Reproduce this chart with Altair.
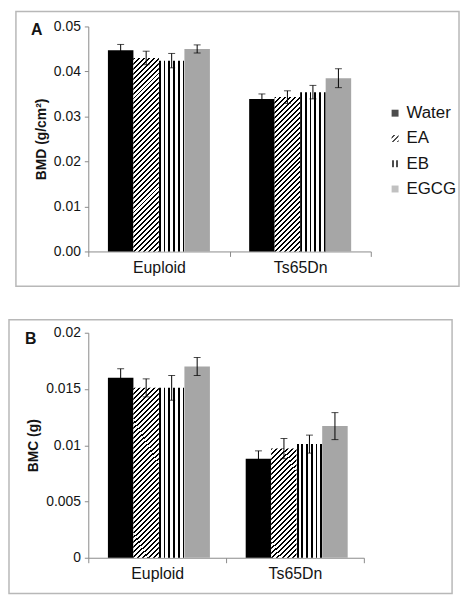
import json
import altair as alt

# ---------------- data ----------------
groups = ["Euploid", "Ts65Dn"]
treatments = ["Water", "EA", "EB", "EGCG"]

bmd_euploid = [0.0447, 0.0430, 0.0424, 0.0450]
bmd_ts65dn = [0.0339, 0.0343, 0.0354, 0.0385]
bmd_err_euploid = [0.0013, 0.0015, 0.0016, 0.0009]
bmd_err_ts65dn = [0.0011, 0.0014, 0.0015, 0.0021]

bmc_euploid = [0.0160, 0.0151, 0.0151, 0.0170]
bmc_ts65dn = [0.0088, 0.0097, 0.0101, 0.0117]
bmc_err_euploid = [0.0008, 0.0008, 0.0011, 0.0008]
bmc_err_ts65dn = [0.0007, 0.0009, 0.0008, 0.0012]

bmd_ticks = [0, 0.01, 0.02, 0.03, 0.04, 0.05]
bmc_ticks = [0, 0.005, 0.01, 0.015, 0.02]

# ---------------- style ----------------
FONT = "Liberation Sans"
TEXT = "#141414"
AXIS = "#8a8a8a"
FRAME = "#b8b8b8"
GRAY = "#a6a6a6"
PLOT_H = 227
OFFSET_PAD = 0.77


def stripe_stops(starts, width):
    stops = [{"offset": 0, "color": "white"}]
    for s in starts:
        s0 = max(0.0, min(1.0, s))
        e = max(0.0, min(1.0, s + width))
        stops += [
            {"offset": round(s0, 5), "color": "white"},
            {"offset": round(s0, 5), "color": "black"},
            {"offset": round(e, 5), "color": "black"},
            {"offset": round(e, 5), "color": "white"},
        ]
    stops.append({"offset": 1, "color": "white"})
    return stops


def diag_gradient(w, h, period=5.0, line=2.0):
    r = h / w
    k = (w + h) / (w * (1 + r * r))
    L = w + h
    starts = []
    i = 0
    while i * period < L:
        starts.append(i * period / L)
        i += 1
    return {"gradient": "linear", "x1": 0, "y1": 0, "x2": k, "y2": k * r,
            "stops": stripe_stops(starts, line / L)}


def vert_gradient(w, n=6, line=1.8):
    bt = line / w
    starts = [i * (1 - bt) / (n - 1) for i in range(n)]
    return {"gradient": "linear", "x1": 0, "y1": 0, "x2": 1, "y2": 0,
            "stops": stripe_stops(starts, bt)}


legend_ea = {"gradient": "linear", "x1": 0, "y1": 0, "x2": 1, "y2": 1,
             "stops": stripe_stops([0.12, 0.48, 0.84], 0.16)}
legend_eb = {"gradient": "linear", "x1": 0, "y1": 0, "x2": 1, "y2": 0,
             "stops": stripe_stops([0.08, 0.58], 0.32)}
legend_range = ["black", {"expr": json.dumps(legend_ea)},
                {"expr": json.dumps(legend_eb)}, GRAY]


def panel(vals_e, vals_t, err_e, err_t, ymax, ticks, fmt, title, letter,
          W, frame, letter_xy):
    band = W / 2
    bar_w = band / (4 + 2 * OFFSET_PAD)
    records = []
    for g, vals, errs in ((groups[0], vals_e, err_e), (groups[1], vals_t, err_t)):
        for t, v, e in zip(treatments, vals, errs):
            h = v / ymax * PLOT_H
            if t == "Water":
                fill = "black"
            elif t == "EA":
                fill = diag_gradient(bar_w, h)
            elif t == "EB":
                fill = vert_gradient(bar_w)
            else:
                fill = GRAY
            records.append({"group": g, "treatment": t, "value": v,
                            "lo": v - e, "hi": v + e, "fill": fill})
    data = alt.Data(values=records)

    x = alt.X("group:N", sort=groups,
              scale=alt.Scale(paddingInner=0, paddingOuter=0),
              axis=alt.Axis(title=None, labelAngle=0, tickBand="extent",
                            domainColor=AXIS, tickColor=AXIS, tickSize=5,
                            labelFontSize=16, labelColor=TEXT, labelPadding=3,
                            labelFont=FONT))
    xo = alt.XOffset("treatment:N", sort=treatments,
                     scale=alt.Scale(paddingInner=0, paddingOuter=OFFSET_PAD))

    def ychan(field):
        return alt.Y(field, title=title,
                     scale=alt.Scale(domain=[0, ymax], nice=False),
                     axis=alt.Axis(values=ticks, format=fmt, grid=False,
                                   domainColor=AXIS, tickColor=AXIS, tickSize=4,
                                   labelFontSize=14, labelColor=TEXT,
                                   labelPadding=4, labelFont=FONT,
                                   titleFontSize=14, titleFontWeight="bold",
                                   titleColor=TEXT, titlePadding=5,
                                   titleFont=FONT))

    base = alt.Chart(data)
    bars = base.mark_bar(strokeWidth=0).encode(
        x=x, xOffset=xo, y=ychan("value:Q"),
        fill=alt.Fill("fill:N", scale=None))
    rules = base.mark_rule(color="black", strokeWidth=1).encode(
        x=x, xOffset=xo, y=ychan("lo:Q"), y2="hi:Q")
    cap_hi = base.mark_tick(color="black", thickness=1, size=7).encode(
        x=x, xOffset=xo, y=ychan("hi:Q"))
    cap_lo = base.mark_tick(color="black", thickness=1, size=7).encode(
        x=x, xOffset=xo, y=ychan("lo:Q"))
    legend_layer = base.transform_filter("false").mark_square(size=49).encode(
        x=x, y=ychan("value:Q"),
        color=alt.Color("treatment:N",
                        scale=alt.Scale(domain=treatments, range=legend_range),
                        legend=alt.Legend(title=None, orient="none",
                                          legendX=W + 16, legendY=79,
                                          symbolType="square", symbolSize=49,
                                          symbolStrokeWidth=0,
                                          labelFontSize=17, labelFont=FONT,
                                          labelColor=TEXT, labelOffset=3,
                                          rowPadding=7.5, padding=0)))
    one = alt.Data(values=[{"k": 1}])
    box = alt.Chart(one).mark_rect(filled=False, stroke=FRAME, strokeWidth=1.5).encode(
        x=alt.value(frame[0]), x2=alt.value(frame[1]),
        y=alt.value(frame[2]), y2=alt.value(frame[3]))
    lab = alt.Chart(one).mark_text(text=letter, font=FONT, fontSize=16,
                                   fontWeight="bold", color=TEXT,
                                   baseline="middle", align="center").encode(
        x=alt.value(letter_xy[0]), y=alt.value(letter_xy[1]))
    return alt.layer(box, bars, rules, cap_hi, cap_lo, legend_layer, lab).properties(
        width=W, height=PLOT_H)


WA = 285
WB = 278
panel_a = panel(bmd_euploid, bmd_ts65dn, bmd_err_euploid, bmd_err_ts65dn,
                0.05, bmd_ticks, ".2f", "BMD (g/cm²)", "A", WA,
                (-73, WA + 89, -15, PLOT_H + 35), (-52, 4))
panel_b = panel(bmc_euploid, bmc_ts65dn, bmc_err_euploid, bmc_err_ts65dn,
                0.02, bmc_ticks, "~g", "BMC (g)", "B", WB,
                (-80, WB + 89, -13, PLOT_H + 36), (-58, 6))

chart = alt.vconcat(panel_a, panel_b, spacing=32).properties(
    padding={"left": 0, "top": 0, "right": 0, "bottom": 0}
).configure(font=FONT).configure_view(stroke=None)

chart.save("out.html", embed_options={"renderer": "svg", "actions": False})
